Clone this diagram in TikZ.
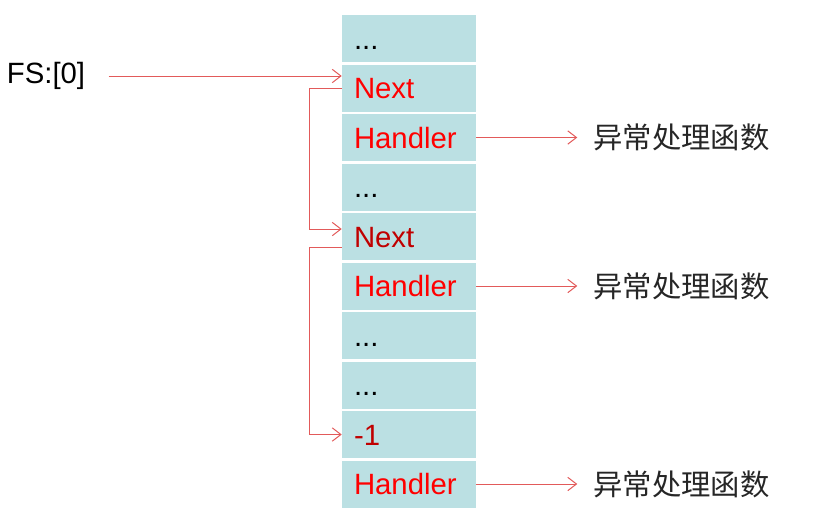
\documentclass[tikz,border=0pt]{standalone}
\usepackage{fontspec}
\setmainfont{Liberation Sans}
\newfontfamily\cjk{Noto Sans CJK SC}
\usetikzlibrary{arrows.meta,positioning}
\definecolor{cellfill}{HTML}{BBE0E3}
\definecolor{linkred}{HTML}{E25A5A}
\definecolor{nextred}{HTML}{C00000}
\definecolor{funcgray}{HTML}{262626}
\newcommand{\celldots}{...}

\begin{document}
\begin{tikzpicture}[x=0.75pt,y=-0.75pt,
  cell/.style={fill=cellfill, minimum width=100.5pt, minimum height=35.25pt,
    inner xsep=9pt, inner ysep=0pt, text width=82.5pt, align=left,
    text height=15.75pt, text depth=0pt, font=\fontsize{22}{26}\selectfont},
  func/.style={inner xsep=12pt, text=funcgray, font=\cjk\fontsize{22}{26}\selectfont},
  link/.style={draw=linkred, line width=0.75pt, -{Straight Barb[length=6.5pt,width=10pt]}}]
\useasboundingbox (0,0) rectangle (839,519);

% the stack
\foreach \i/\txt/\col in {1/\celldots/black, 2/Next/red, 3/Handler/red,
    4/\celldots/black, 5/Next/nextred, 6/Handler/red, 7/\celldots/black,
    8/\celldots/black, 9/-1/nextred, 10/Handler/red}
  \node[cell, text=\col] (c\i) at (409,{38.5+49.5*(\i-1)}) {\txt};

\node[font=\fontsize{22}{26}\selectfont] (fs) at (46,76) {FS:[0]};
\draw[link, shorten <=14pt] (fs.east) -- (fs.east -| c2.west);

% chain of Next pointers
\draw[link] (c2.west) -- ++(-32,0) |- ([yshift=5.6pt]c5.west);
\draw[link] ([yshift=-8.6pt]c5.west) -- ++(-32,0) |- (c9.west);

% handlers
\node[func, right=75.75pt of c3] (f1) {异常处理函数};
\node[func, right=75.75pt of c6] (f2) {异常处理函数};
\node[func, right=75.75pt of c10] (f3) {异常处理函数};
\draw[link] (c3.east) -- (f1.west);
\draw[link] (c6.east) -- (f2.west);
\draw[link] (c10.east) -- (f3.west);
\end{tikzpicture}
\end{document}
